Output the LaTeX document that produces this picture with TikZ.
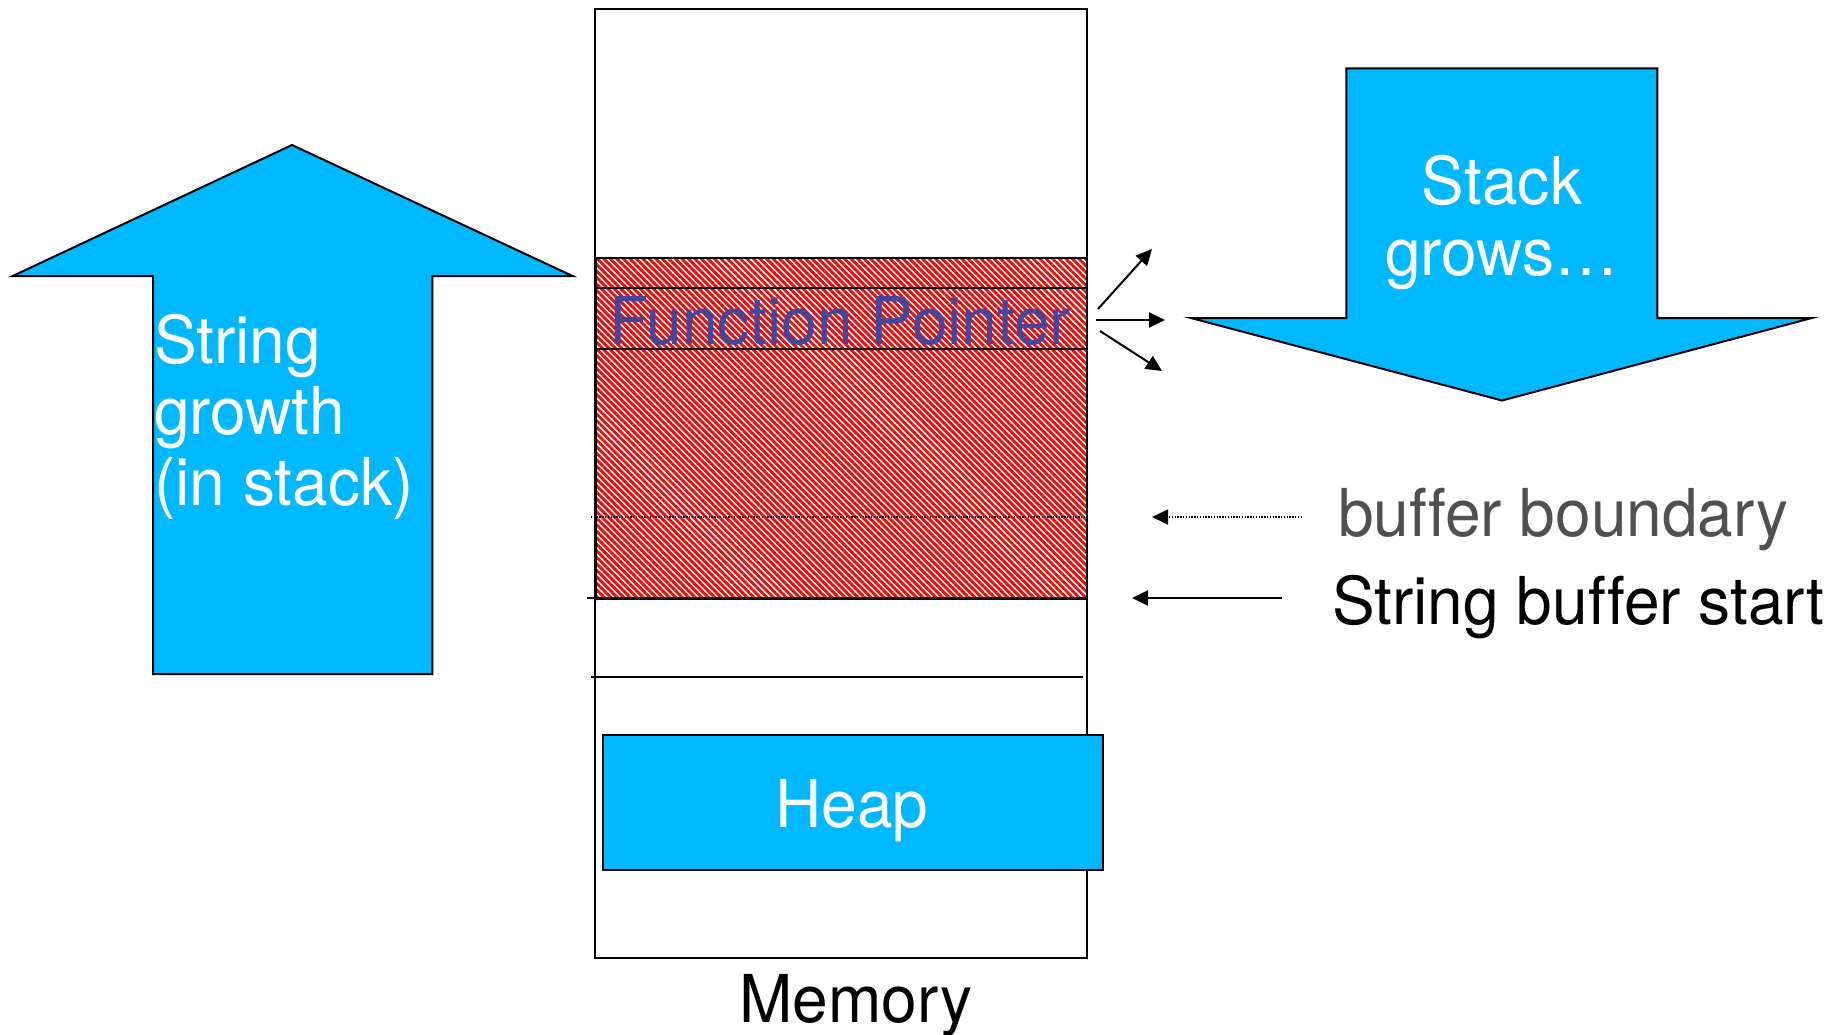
\documentclass[tikz,border=0pt]{standalone}
\usepackage{fontspec}
\setmainfont{TeX Gyre Heros}[FakeStretch=0.97, Ligatures={NoCommon}]
\usetikzlibrary{arrows.meta,patterns.meta}
\definecolor{skyb}{RGB}{0,184,255}
\definecolor{fpblue}{RGB}{63,72,158}
\definecolor{bgray}{RGB}{80,80,80}
\begin{document}
\begin{tikzpicture}[x=1pt,y=-1pt,
  txt/.style={font=\fontsize{66}{71}\selectfont, inner sep=0pt},
  blockarrow/.style={fill=skyb, draw=black, line width=2pt, line join=miter},
  thinarrow/.style={-{Triangle[length=16pt,width=15pt]}, line width=2pt},
  boxline/.style={line width=2pt},
]
\useasboundingbox (0,0) rectangle (1847,1034);

% left block arrow: string growth
\draw[blockarrow] (153,674) -- (153,276) -- (12.7,276) -- (292,145) -- (572.5,276) -- (432.3,276) -- (432.3,674) -- cycle;
\node[txt, text=white, anchor=base west, align=left] (sg) at (154,505) {String\\growth\\(in stack)};

% right block arrow: stack grows
\draw[blockarrow] (1346.4,68.3) -- (1657.4,68.3) -- (1657.4,318) -- (1811.8,318) -- (1502,400.5) -- (1190.9,318) -- (1346.4,318) -- cycle;
\node[txt, text=white, anchor=base, align=center] (sgw) at (1502,275) {Stack\\grows…};

% memory column
\node[draw, boxline, anchor=north west, minimum width=491.2pt, minimum height=949pt, inner sep=0pt] (mem) at (594.3,8) {};
\node[draw, boxline, anchor=north west, minimum width=491.2pt, minimum height=341.3pt, inner sep=0pt,
      pattern={Lines[angle=-45,distance=4.6pt,line width=2.8pt]}, pattern color=red] (buf) at (594.3,256.7) {};
\draw[boxline] (594.3,288.3) -- (1085.5,288.3);
\draw[boxline] (594.3,349.3) -- (1085.5,349.3);
\node[txt, text=fpblue, anchor=base] (fp) at (840.5,344) {Function Pointer};
\draw[dash pattern=on 1.4pt off 1.4pt, line width=1.3pt] (591,517) -- (1085.5,517);
\draw[boxline] (586.6,598) -- (1085.5,598);
\draw[boxline] (591,677.4) -- (1082.6,677.4);

% heap
\node[fill=skyb, draw, boxline, anchor=north west, minimum width=500pt, minimum height=135.6pt, inner sep=0pt] (heap) at (601.7,733.7) {};
\node[txt, text=white, anchor=base] (heaplbl) at (851.7,827) {Heap};

% memory label
\node[txt, anchor=base] (memlbl) at (856,1022) {Memory};

% overflow arrows
\coordinate (ua) at (1098,309); \coordinate (ub) at (1152,249);
\coordinate (ma) at (1096,320); \coordinate (mb) at (1165,320);
\coordinate (da) at (1100,331); \coordinate (db) at (1162,371);
\draw[thinarrow] (ua) -- (ub);
\draw[thinarrow] (ma) -- (mb);
\draw[thinarrow] (da) -- (db);

% labels on the right
\node[txt, text=bgray, anchor=base west] (bbl) at (1338,536) {buffer boundary};
\node[txt, anchor=base west] (sbs) at (1332,624) {String buffer start};
\coordinate (bba) at (1302,517); \coordinate (bbb) at (1152,517);
\coordinate (sba) at (1282,598); \coordinate (sbb) at (1132,598);
\draw[thinarrow, dash pattern=on 1.4pt off 1.4pt, line width=1.3pt] (bba) -- (bbb);
\draw[thinarrow] (sba) -- (sbb);
\end{tikzpicture}
\end{document}
